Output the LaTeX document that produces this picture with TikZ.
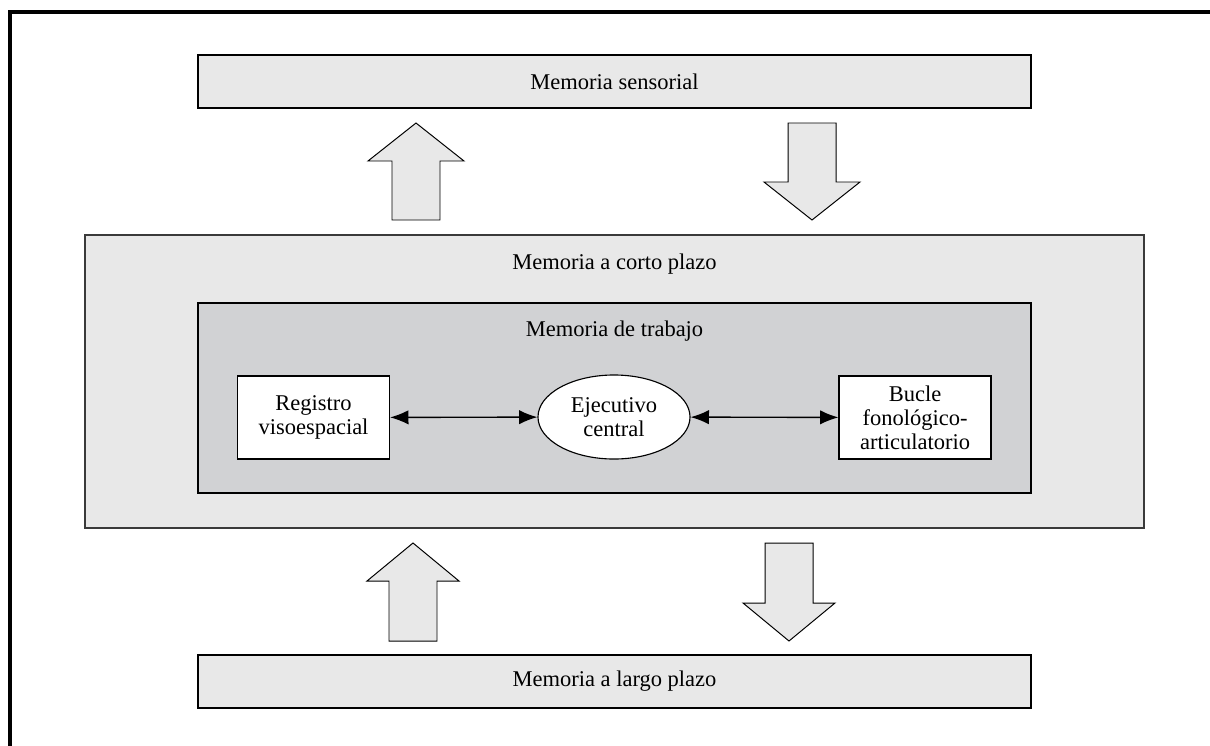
\documentclass[tikz,border=0pt]{standalone}
\usepackage{fontspec}
\setmainfont{Liberation Serif}
\usetikzlibrary{arrows.meta,shapes.geometric}
\definecolor{memLight}{HTML}{E8E8E8}
\definecolor{memWork}{HTML}{D1D2D4}
\definecolor{memEdge}{HTML}{3A3A3A}
\tikzset{
  lbl/.style={font=\fontsize{16}{17}\selectfont, align=center},
  store/.style={draw=black, line width=1.1pt, fill=memLight, inner sep=0pt,
    minimum width=20.825cm, minimum height=1.325cm, lbl},
  part/.style={draw=black, line width=0.8pt, fill=white, inner sep=0pt,
    minimum width=3.8cm, minimum height=2.075cm, lbl},
  flow/.style={draw=black, line width=0.7pt, fill=memLight, line join=miter},
  link/.style={{Latex[length=4.6mm,width=3.6mm]}-{Latex[length=4.6mm,width=3.6mm]}, line width=1pt},
}
% block arrow: centre x, tip y, wing y, tail y, half wing
\newcommand{\blockarrow}[5]{%
  \draw[flow] (#1,#2) -- (#1+#5,#3) -- (#1+24,#3) -- (#1+24,#4)
    -- (#1-24,#4) -- (#1-24,#3) -- (#1-#5,#3) -- cycle;}

\begin{document}
\begin{tikzpicture}[x=0.025cm, y=-0.025cm]
  \useasboundingbox (0,0) rectangle (1210,745);
  \draw[line width=2.2pt] (10,760) -- (10,12) -- (1225,12);

  \node[store] (sensorial) at (614.5,81.5) {Memoria sensorial};
  \node[store] (largo) at (614.5,681.5) {Memoria a largo plazo};

  \node[draw=memEdge, line width=1.1pt, fill=memLight, inner sep=0pt,
    minimum width=26.475cm, minimum height=7.325cm] (corto) at (614.5,381.5) {};
  \node[lbl] (cortotxt) at (614.5,264) {Memoria a corto plazo};

  \node[draw=black, line width=0.9pt, fill=memWork, inner sep=0pt,
    minimum width=20.825cm, minimum height=4.75cm] (trabajo) at (614.5,398) {};
  \node[lbl] (trabajotxt) at (614.5,331) {Memoria de trabajo};

  \node[part] (registro) at (313.5,417.5) {Registro\\visoespacial};
  \node[part, ellipse, minimum height=2.1cm] (ejecutivo) at (614,417) {Ejecutivo\\central};
  \node[part] (bucle) at (915,417.5) {Bucle\\fonológico-\\articulatorio};

  \draw[link] (registro) -- (ejecutivo);
  \draw[link] (ejecutivo) -- (bucle);

  \blockarrow{416}{123}{161}{220}{48}
  \blockarrow{812}{220}{182}{123}{48}
  \blockarrow{413}{543}{581}{641}{46}
  \blockarrow{789}{641}{603}{543}{46}
\end{tikzpicture}
\end{document}
